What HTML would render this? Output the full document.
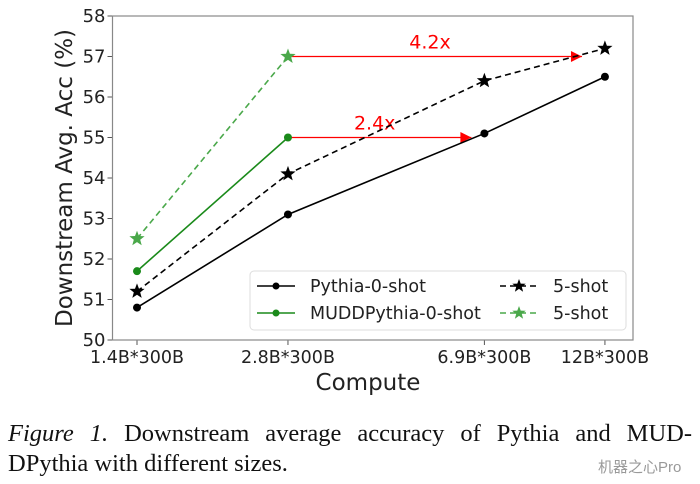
<!DOCTYPE html>
<html><head><meta charset="utf-8"><style>
body{margin:0;background:#fff;width:700px;height:484px;overflow:hidden;position:relative}
svg{position:absolute;left:0;top:0}
.cap{position:absolute;left:8px;width:684px;font-family:"Liberation Serif",serif;font-size:24.5px;line-height:30px;color:#111;white-space:nowrap}
.l1{top:419px;text-align:justify;text-align-last:justify}
.l2{top:449px}
.wm{position:absolute;left:598px;top:456px;font-family:"Liberation Sans","Noto Sans CJK SC",sans-serif;font-size:15px;color:#999}
</style></head><body>
<svg width="700" height="420" id="chart"></svg>
<div class="cap l1"><i>Figure 1.</i> Downstream average accuracy of Pythia and MUD-</div>
<div class="cap l2">DPythia with different sizes.</div>
<div class="wm">机器之心Pro</div>
<script>
const categories=["1.4B*300B","2.8B*300B","6.9B*300B","12B*300B"];
const sizes=[1.4,2.8,6.9,12];
const pythia0=[50.8,53.1,55.1,56.5];
const pythia5=[51.2,54.1,56.4,57.2];
const mudd0=[51.7,55.0];
const mudd5=[52.5,57.0];
const yTicks=[50,51,52,53,54,55,56,57,58];
const arrows=[{y:55,toSize:6.5,label:"2.4x"},{y:57,toSize:10.8,label:"4.2x"}];
const NS="http://www.w3.org/2000/svg";
const svg=document.getElementById('chart');
const L=112.5,R=633,T=16,B=340;
const x=s=>137+(Math.log(s)-Math.log(1.4))*217.8;
const y=v=>B-(v-50)*(B-T)/8;
const FF='DejaVu Sans, Liberation Sans, sans-serif';
function el(t,a,p){const e=document.createElementNS(NS,t);for(const k in a)e.setAttribute(k,a[k]);(p||svg).appendChild(e);return e;}
function txt(s,a){const e=el('text',Object.assign({'font-family':FF},a));e.textContent=s;return e;}
yTicks.forEach(v=>{const g=el('g',{});


el('line',{x1:L-5,x2:L,y1:y(v),y2:y(v),stroke:'#555'},g);
const t=txt(String(v),{x:L-7,y:y(v)+6,'font-size':18,'text-anchor':'end',fill:'#222'});g.appendChild(t);});
categories.forEach((c,i)=>{const g=el('g',{});


el('line',{x1:x(sizes[i]),x2:x(sizes[i]),y1:B,y2:B+5,stroke:'#555'},g);
const t=txt(c,{x:x(sizes[i]),y:B+23,'font-size':17.5,'text-anchor':'middle',fill:'#222'});g.appendChild(t);});
const fr=el('rect',{x:L,y:T,width:R-L,height:B-T,fill:'none',stroke:'#888','stroke-width':1.2});


const xt=txt('Compute',{x:368,y:390,'font-size':23,'text-anchor':'middle',fill:'#222'});


const yt=txt('Downstream Avg. Acc (%)',{x:0,y:0,'font-size':23,'text-anchor':'middle',fill:'#222',transform:'translate(72,178) rotate(-90)'});


el('defs',{}).innerHTML='<marker id="ah" viewBox="0 0 10 10" refX="10" refY="5" markerWidth="13" markerHeight="11" markerUnits="userSpaceOnUse" orient="auto"><path d="M0,0L10,5L0,10z" fill="#f00"/></marker>';
function star(cx,cy,r,col){let d='';for(let k=0;k<10;k++){const rr=k%2?r*0.42:r;const a=-Math.PI/2+k*Math.PI/5;d+=(k?'L':'M')+(cx+rr*Math.cos(a)).toFixed(1)+','+(cy+rr*Math.sin(a)).toFixed(1);}return el('path',{d:d+'Z',fill:col});}
function series(vals,col,dash,mark,name){
const g=el('g',{});


const pts=vals.map((v,i)=>x(sizes[i])+','+y(v)).join(' ');
el('polyline',{points:pts,fill:'none',stroke:col,'stroke-width':1.6,'stroke-dasharray':dash||''},g);
vals.forEach((v,i)=>{const m=mark==='star'?star(x(sizes[i]),y(v),8,col):el('circle',{cx:x(sizes[i]),cy:y(v),r:4,fill:col});g.appendChild(m);

});}
arrows.forEach((a,i)=>{const g=el('g',{});


el('line',{x1:x(2.8),x2:x(a.toSize),y1:y(a.y),y2:y(a.y),stroke:'#f00','stroke-width':1.2,'marker-end':'url(#ah)'},g);
const t=txt(a.label,{x:(x(2.8)+x(a.toSize))/2-5,y:y(a.y)-8,'font-size':19,'text-anchor':'middle',fill:'#f00'});g.appendChild(t);});
series(pythia0,'#000','', 'dot','pythia-0-shot-line');
series(pythia5,'#000','6 4','star','pythia-5-shot-line');
series(mudd0,'#1a8a1a','','dot','mudd-0-shot-line');
series(mudd5,'#4aa84a','6 4','star','mudd-5-shot-line');
const lg=el('g',{});


el('rect',{x:250,y:271,width:376,height:59,rx:4,fill:'#fff','fill-opacity':0.85,stroke:'#ddd'},lg);
const items=[['Pythia-0-shot','#000','',false,257,286],['MUDDPythia-0-shot','#1a8a1a','',false,257,313],['5-shot','#000','6 4',true,500,286],['5-shot','#4aa84a','6 4',true,500,313]];
items.forEach((it,i)=>{const g=el('g',{},lg);


const [lab,col,dash,isStar,lx,ly]=it;
el('line',{x1:lx,x2:lx+38,y1:ly,y2:ly,stroke:col,'stroke-width':1.6,'stroke-dasharray':dash},g);
if(isStar)g.appendChild(star(lx+19,ly,7,col));else el('circle',{cx:lx+19,cy:ly,r:3.5,fill:col},g);
g.appendChild(txt(lab,{x:lx+53,y:ly+6,'font-size':17.5,fill:'#222'}));});
</script>
</body></html>
